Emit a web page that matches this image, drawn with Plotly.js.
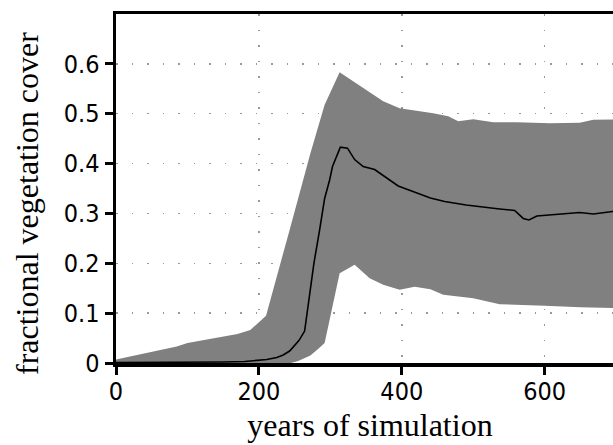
<!DOCTYPE html>
<html>
<head>
<meta charset="utf-8">
<script src="https://cdn.plot.ly/plotly-3.0.1.min.js"></script>
<style>
html, body { margin: 0; padding: 0; overflow: hidden; background: #fff; }
#chart { width: 640px; height: 445px; }
</style>
</head>
<body>
<div id="chart"></div>
<script>
// Upper edge of the spread band
const upperYears = [0, 50, 85, 100, 140, 170, 188, 210, 243, 272, 292, 313, 374, 397, 444, 465, 479, 500, 528, 561, 607, 649, 668, 711];
const upperVals  = [0.007, 0.022, 0.033, 0.040, 0.050, 0.058, 0.066, 0.095, 0.267, 0.420, 0.518, 0.583, 0.525, 0.511, 0.501, 0.495, 0.485, 0.489, 0.483, 0.483, 0.481, 0.482, 0.488, 0.489];

// Lower edge of the spread band
const lowerYears = [0, 245, 255, 265, 272, 282, 292, 313, 334, 355, 374, 397, 418, 440, 458, 500, 537, 600, 650, 711];
const lowerVals  = [0, 0, 0.004, 0.010, 0.015, 0.027, 0.040, 0.180, 0.197, 0.170, 0.157, 0.147, 0.153, 0.148, 0.137, 0.130, 0.118, 0.115, 0.112, 0.110];

// Mean fractional vegetation cover
const meanYears = [0, 100, 150, 180, 197, 211, 225, 234, 243, 250, 256, 264, 270, 277, 285, 292, 299, 303, 314, 324, 334, 346, 362, 380, 395, 425, 440, 460, 490, 537, 558, 570, 578, 589, 621, 649, 668, 695, 711];
const meanVals  = [0.001, 0.001, 0.002, 0.003, 0.005, 0.007, 0.011, 0.016, 0.024, 0.036, 0.045, 0.064, 0.126, 0.200, 0.267, 0.330, 0.367, 0.394, 0.433, 0.431, 0.408, 0.394, 0.388, 0.370, 0.355, 0.339, 0.331, 0.324, 0.317, 0.309, 0.306, 0.290, 0.287, 0.295, 0.299, 0.302, 0.299, 0.304, 0.305];

const xTickVals = [0, 200, 400, 600];
const yTickVals = [0, 0.1, 0.2, 0.3, 0.4, 0.5, 0.6];
const yTickText = ["0", "0.1", "0.2", "0.3", "0.4", "0.5", "0.6"];
const xTitle = "years of simulation";
const yTitle = "fractional vegetation cover";

const tickFont = { family: "DejaVu Sans Condensed, Liberation Sans Narrow, sans-serif", size: 25, color: "#000" };
const titleFont = { family: "Liberation Serif, DejaVu Serif, serif", size: 32, color: "#000" };

const traces = [
  { x: lowerYears, y: lowerVals, mode: "lines", line: { width: 0, color: "#808080" }, hoverinfo: "skip", showlegend: false },
  { x: upperYears, y: upperVals, mode: "lines", fill: "tonexty", fillcolor: "#808080", line: { width: 0, color: "#808080" }, hoverinfo: "skip", showlegend: false },
  { x: meanYears, y: meanVals, mode: "lines", line: { width: 1.6, color: "#000" }, showlegend: false }
];

const W = 640, H = 445, ML = 116, MR = 16, MT = 14, MB = 82;
const plotW = W - ML - MR, plotH = H - MT - MB;

const layout = {
  width: W, height: H,
  margin: { l: ML, r: MR, t: MT, b: MB },
  paper_bgcolor: "#fff", plot_bgcolor: "#fff",
  showlegend: false,
  xaxis: {
    range: [0, 711], tickvals: xTickVals, ticks: "outside", ticklen: 8, tickwidth: 3, tickcolor: "#000",
    ticklabelstandoff: -5,
    showline: true, linewidth: 3.5, linecolor: "#000", mirror: true,
    showgrid: true, gridcolor: "#999", gridwidth: 1.5, griddash: "1.5px,14px",
    zeroline: false, tickfont: tickFont,
    title: { text: xTitle, font: titleFont, standoff: 10 }
  },
  yaxis: {
    range: [0, 0.7], tickvals: yTickVals, ticktext: yTickText, ticks: "outside", ticklen: 8, tickwidth: 3, tickcolor: "#000",
    showline: true, linewidth: 3.5, linecolor: "#000", mirror: true,
    showgrid: true, gridcolor: "#999", gridwidth: 1.5, griddash: "1.5px,14px",
    zeroline: false, tickfont: tickFont
  },
  annotations: [{
    text: yTitle, font: titleFont, textangle: -90, showarrow: false,
    xref: "paper", yref: "paper",
    x: (27 - ML) / plotW, y: (H - MB - 204) / plotH,
    xanchor: "center", yanchor: "middle"
  }]
};

Plotly.newPlot("chart", traces, layout, { displayModeBar: false, staticPlot: true });
</script>
</body>
</html>
